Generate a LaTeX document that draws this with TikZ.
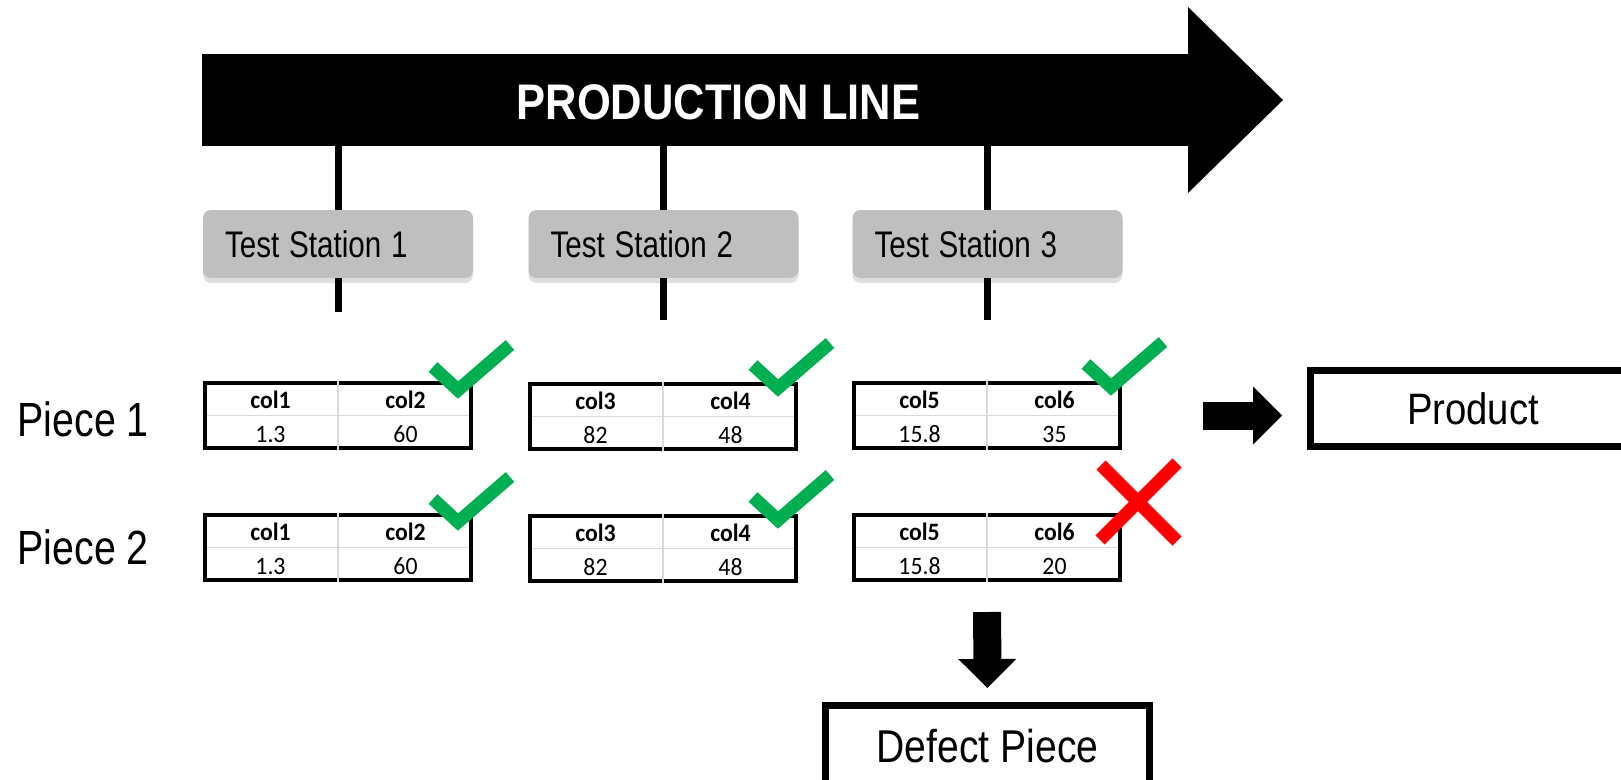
\documentclass[tikz,border=0pt]{standalone}
\usepackage{fontspec}
\setmainfont{Liberation Sans}
\newfontfamily\calibri{Carlito}
\usepackage{graphicx}
\usetikzlibrary{shapes,arrows.meta,shadows}
\definecolor{okgreen}{HTML}{00B050}
\definecolor{badred}{HTML}{FF0000}
\definecolor{stationgray}{HTML}{BFBFBF}
\definecolor{cellgray}{HTML}{D9D9D9}
\newcommand{\squeeze}[2]{\scalebox{#1}[1]{#2}}
\newcommand{\fsize}[1]{\fontsize{#1}{#1}\selectfont}

\begin{document}
\begin{tikzpicture}[x=1pt,y=-1pt,
  station/.style={fill=stationgray,rounded corners=8pt,minimum height=68pt,text width=226pt,inner xsep=22pt,align=left,
    drop shadow={shadow xshift=0pt,shadow yshift=-5pt,opacity=0.25},font=\fsize{37}},
  stemline/.style={line width=7pt},
  tbl/.style={draw,line width=4pt,minimum width=266pt,minimum height=65pt,inner sep=0pt},
  celline/.style={draw=cellgray,line width=1.5pt,shorten <=4pt,shorten >=4pt},
  headcell/.style={anchor=base,font=\calibri\bfseries\fsize{25}},
  valcell/.style={anchor=base,font=\calibri\fsize{25}},
  okcheck/.style={draw=okgreen,line width=13pt},
  nocheck/.style={draw=badred,line width=13pt},
  outbox/.style={draw,line width=7pt,inner sep=0pt},
  block/.style={line width=28pt,-{Triangle[length=29pt,width=58pt,line width=0pt]}}]
\useasboundingbox (0,0) rectangle (1621,779);
\clip (0,0) rectangle (1621,779);

\node[fill=black,minimum width=988pt,minimum height=92pt,inner sep=0pt] (pl) at (696,100) {};
\fill (1188,7) -- (1283,100) -- (1188,193) -- cycle;
\node[anchor=base,text=white,font=\bfseries\fsize{50}] (pltext) at (718.5,119) {\squeeze{0.87}{PRODUCTION LINE}};

\coordinate (e1) at (338,312);
\coordinate (e2) at (663.5,320);
\coordinate (e3) at (987.5,320);
\node[station] (s1) at (338,244) {\squeeze{0.8}{Test Station 1}};
\node[station] (s2) at (663.5,244) {\squeeze{0.8}{Test Station 2}};
\node[station] (s3) at (987.5,244) {\squeeze{0.8}{Test Station 3}};
\foreach \i in {1,2,3} {
  \draw[stemline] (s\i.north) -- (s\i.north |- pl.south);
  \draw[stemline] (s\i.south) -- (e\i);
}

\node[anchor=base west,font=\fsize{48}] (p1) at (14,436) {\squeeze{0.82}{Piece 1}};
\node[anchor=base west,font=\fsize{48}] (p2) at (14,564) {\squeeze{0.82}{Piece 2}};

\foreach \n/\x/\y/\ca/\cb/\va/\vb in {
  11/203/381/col1/col2/1.3/60,
  12/528/382/col3/col4/82/48,
  13/852/381/col5/col6/15.8/35,
  21/203/513/col1/col2/1.3/60,
  22/528/514/col3/col4/82/48,
  23/852/513/col5/col6/15.8/20} {
  \node[tbl] (t\n) at (\x+135,\y+34.5) {};
  \draw[celline] (t\n.north) -- (t\n.south) (t\n.west) -- (t\n.east);
  \node[headcell] (ha\n) at (\x+67.5,\y+27) {\squeeze{0.95}{\ca}};
  \node[headcell] (hb\n) at (\x+202.5,\y+27) {\squeeze{0.95}{\cb}};
  \node[valcell] (va\n) at (\x+67.5,\y+61) {\squeeze{0.95}{\va}};
  \node[valcell] (vb\n) at (\x+202.5,\y+61) {\squeeze{0.95}{\vb}};
}

\foreach \cx/\cy in {458/390,778/388,1111/387,458/522,778/520}
  \draw[okcheck] (\cx-25,\cy-23) -- (\cx,\cy) -- (\cx+52,\cy-45);
\draw[nocheck] (1101,465) -- (1177,541) (1177,463) -- (1100,540);

\node[outbox,minimum width=325pt,minimum height=76pt,font=\fsize{44}] (prod) at (1473,408.5) {\squeeze{0.87}{Product}};
\draw[block,shorten <=81pt,shorten >=25pt] (t13.east) -- (t13.east -| prod.west);

\node[outbox,minimum width=324pt,minimum height=82pt,font=\fsize{46}] (defect) at (987.5,746.5) {\squeeze{0.85}{Defect Piece}};
\draw[block,shorten <=30pt,shorten >=14pt] (t23.south) -- (defect.north);
\end{tikzpicture}
\end{document}
